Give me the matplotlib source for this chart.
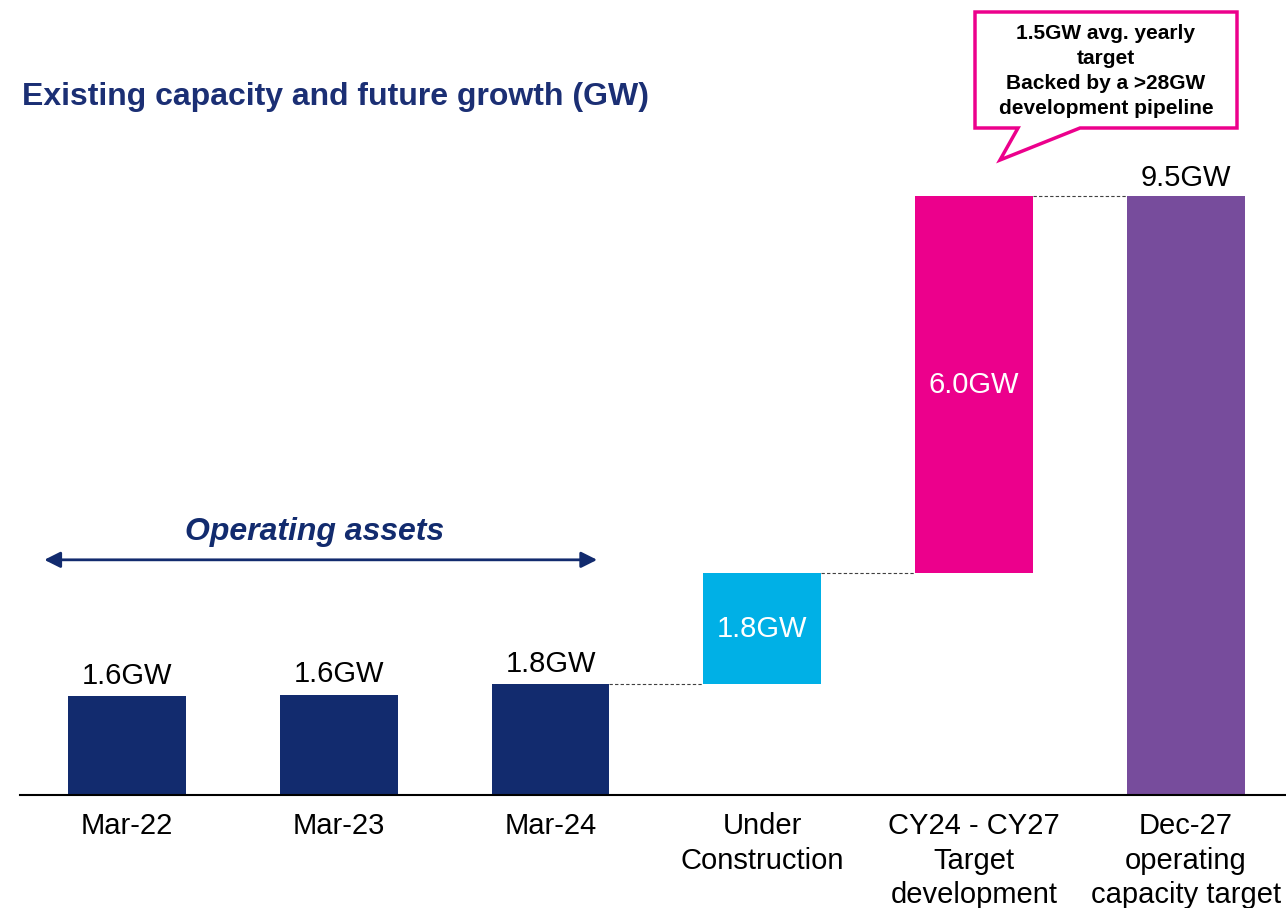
import matplotlib.pyplot as plt
from matplotlib.patches import Polygon

plt.rcParams['font.family'] = ['Liberation Sans', 'DejaVu Sans']

# data
categories = ['Mar-22', 'Mar-23', 'Mar-24', 'Under\nConstruction',
              'CY24 - CY27\nTarget\ndevelopment', 'Dec-27\noperating\ncapacity target']
operating = [1.57, 1.59, 1.76]
under_construction = 1.76
target_dev = 5.98
total = 9.5
labels = ['1.6GW', '1.6GW', '1.8GW', '1.8GW', '6.0GW', '9.5GW']

navy = '#122b6e'
cyan = '#00b0e6'
magenta = '#ec008c'
purple = '#774c9c'

W, H = 1286, 908
fig = plt.figure(figsize=(W / 100, H / 100), dpi=100)
ax = fig.add_axes([0, 0, 1, 1])
ax.set_xlim(-0.599, 5.472)
ax.set_ylim(-113 / 63.05, (H - 113) / 63.05)
ax.axis('off')

bw = 0.556
x = list(range(6))
ax.bar(x[:3], operating, width=bw, color=navy, zorder=2)
uc_base = operating[2]
ax.bar(x[3], under_construction, bottom=uc_base, width=bw, color=cyan, zorder=2)
td_base = uc_base + under_construction
ax.bar(x[4], target_dev, bottom=td_base, width=bw, color=magenta, zorder=2)
ax.bar(x[5], total, width=bw, color=purple, zorder=2)

# baseline
ax.plot([-0.505, 5.472], [0, 0], color='black', lw=1.5, zorder=3)

# connectors
dash = dict(color='#404040', lw=0.8, ls=(0, (3, 2)), zorder=1)
ax.plot([2 + bw / 2, 3 - bw / 2], [uc_base, uc_base], **dash)
ax.plot([3 + bw / 2, 4 - bw / 2], [td_base, td_base], **dash)
ax.plot([4 + bw / 2, 5 - bw / 2], [total, total], **dash)

# value labels
fs = 21
for i, v in enumerate(operating):
    ax.text(x[i], v + 0.1, labels[i], ha='center', va='bottom', fontsize=fs)
ax.text(x[3], uc_base + under_construction / 2, labels[3], ha='center', va='center',
        fontsize=fs, color='white')
ax.text(x[4], td_base + target_dev / 2, labels[4], ha='center', va='center',
        fontsize=fs, color='white')
ax.text(x[5], total + 0.06, labels[5], ha='center', va='bottom', fontsize=fs)

# category labels
for i, c in enumerate(categories):
    ax.text(x[i], -0.27, c, ha='center', va='top', fontsize=fs, linespacing=1.3)

# operating assets arrow
ax.annotate('', xy=(-0.39, 3.73), xytext=(2.22, 3.73),
            arrowprops=dict(arrowstyle='<|-|>', color=navy, lw=2, mutation_scale=24,
                            shrinkA=0, shrinkB=0))
ax.text(0.885, 4.17, 'Operating assets', ha='center', va='center', fontsize=23,
        color=navy, fontweight='bold', fontstyle='italic')

# title
fig.text(22 / W, 1 - 97 / H, 'Existing capacity and future growth (GW)', ha='left',
         va='center', fontsize=23, fontweight='bold', color='#1b2f74')

# callout
pts = [(975, 12), (1237, 12), (1237, 128), (1080, 128), (1000, 160), (1018, 128), (975, 128)]
poly = Polygon([(px / W, 1 - py / H) for px, py in pts], closed=True, transform=fig.transFigure,
               facecolor='white', edgecolor=magenta, lw=2.5)
fig.patches.append(poly)
fig.text(1106 / W, 1 - 71 / H,
         '1.5GW avg. yearly\ntarget\nBacked by a >28GW\ndevelopment pipeline',
         ha='center', va='center', fontsize=15, fontweight='bold', linespacing=1.4)

fig.savefig('out.png', dpi=100)
